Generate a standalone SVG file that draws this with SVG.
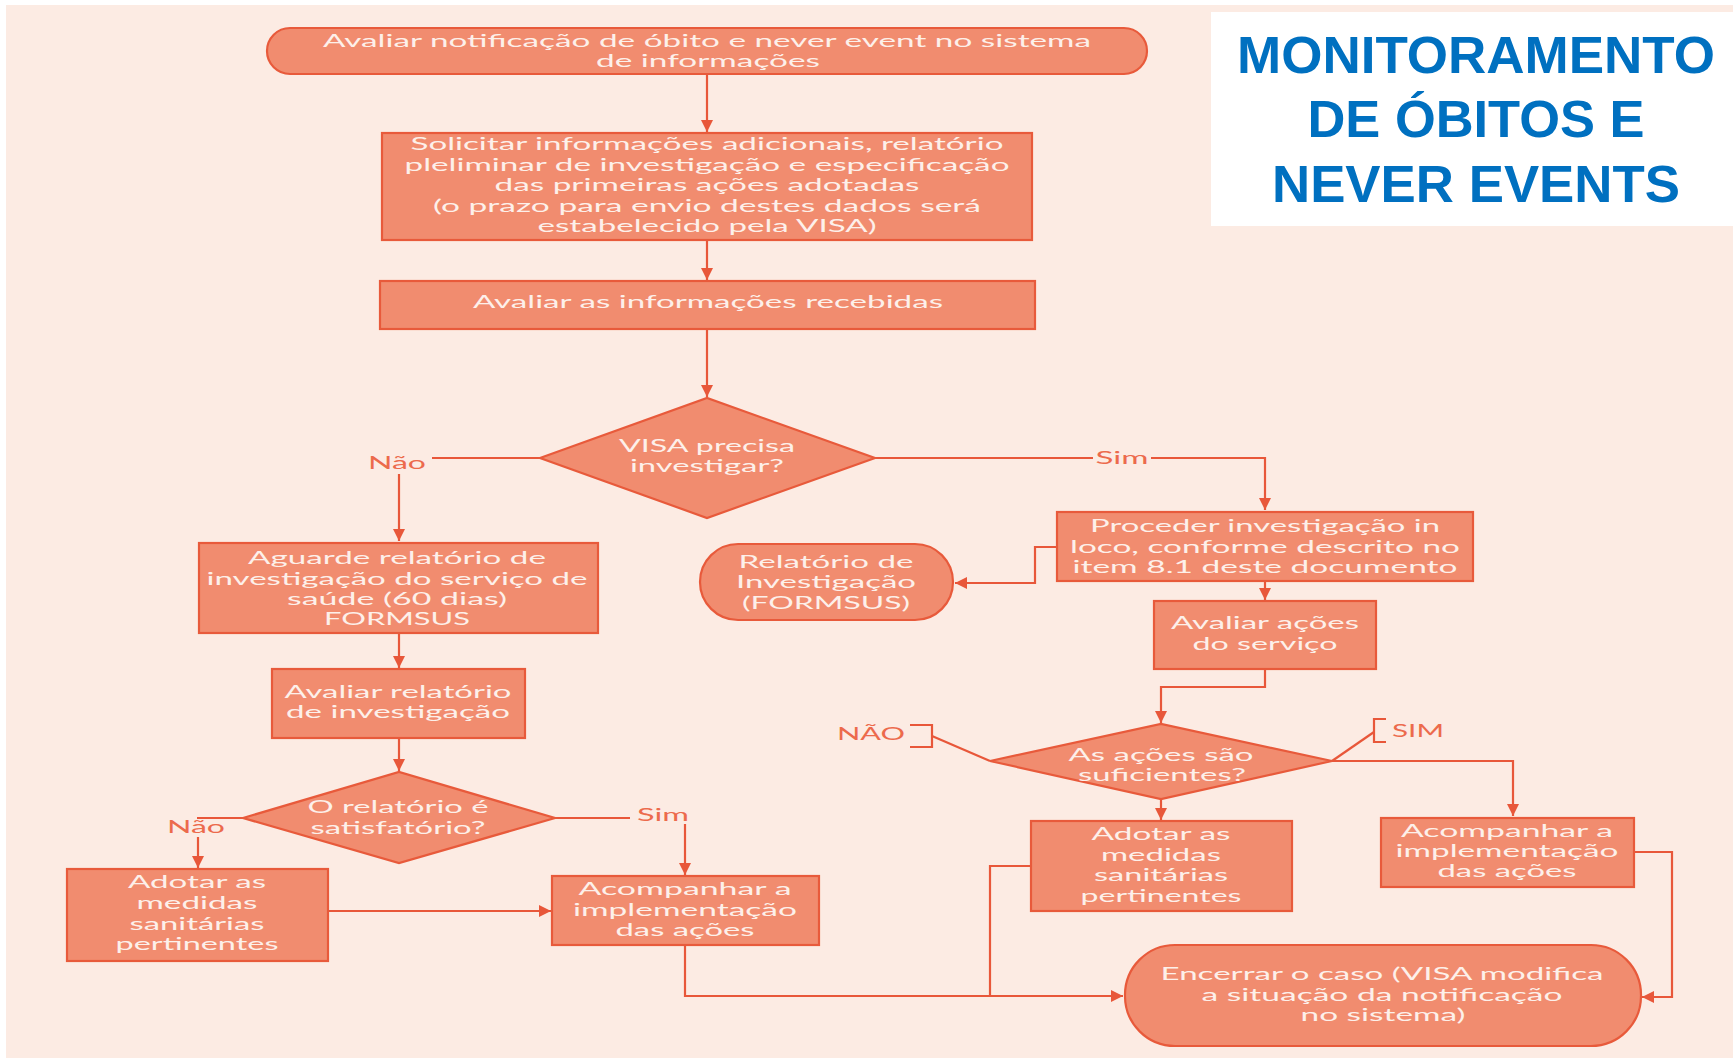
<svg xmlns="http://www.w3.org/2000/svg" width="1733" height="1063" viewBox="0 0 1733 1063">
  <style>
    .box { fill: #f18c6f; stroke: #e85a3b; stroke-width: 2.2; }
    .t { font-family: Lato, "Open Sans", "DejaVu Sans", sans-serif; font-size: 16.5px; fill: #fdf0ea; text-anchor: middle; }
    .lbl { font-family: Lato, "Open Sans", "DejaVu Sans", sans-serif; font-size: 16.5px; fill: #ec6a4c; text-anchor: middle; }
    .ln { fill: none; stroke: #e8573a; stroke-width: 2.2; }
    .title { font-family: "Liberation Sans", Arial, sans-serif; font-weight: bold; font-size: 52.5px; fill: #0070c0; text-anchor: middle; }
  </style>
  <defs>
    <marker id="ah" viewBox="0 0 10 10" refX="10" refY="5" markerWidth="12" markerHeight="12" markerUnits="userSpaceOnUse" orient="auto">
      <path d="M0,0 L10,5 L0,10 z" fill="#e8573a"/>
    </marker>
  </defs>

  <!-- page -->
  <rect x="0" y="0" width="1733" height="1063" fill="#ffffff"/>
  <rect x="6" y="5" width="1727" height="1053" fill="#fcebe3"/>

  <!-- title panel -->
  <g id="title">
    <rect x="1211" y="12" width="522" height="214" fill="#ffffff"/>
    <text class="title" x="1476" y="73" textLength="478" lengthAdjust="spacingAndGlyphs">MONITORAMENTO</text>
    <text class="title" x="1476" y="137" textLength="337" lengthAdjust="spacingAndGlyphs">DE ÓBITOS E</text>
    <text class="title" x="1476" y="202" textLength="408" lengthAdjust="spacingAndGlyphs">NEVER EVENTS</text>
  </g>

  <!-- connectors -->
  <g id="connectors">
    <path class="ln" d="M707,74 V132" marker-end="url(#ah)"/>
    <path class="ln" d="M707,240 V280" marker-end="url(#ah)"/>
    <path class="ln" d="M707,329 V397" marker-end="url(#ah)"/>
    <!-- VISA precisa investigar? -->
    <path class="ln" d="M540,458 H432"/>
    <path class="ln" d="M399,474 V541" marker-end="url(#ah)"/>
    <path class="ln" d="M875,458 H1093"/>
    <path class="ln" d="M1151,458 H1265 V510" marker-end="url(#ah)"/>
    <!-- right branch -->
    <path class="ln" d="M1057,547 H1035 V583 H955" marker-end="url(#ah)"/>
    <path class="ln" d="M1265,581 V600" marker-end="url(#ah)"/>
    <path class="ln" d="M1265,669 V687 H1161 V723" marker-end="url(#ah)"/>
    <path class="ln" d="M1161,799 V820" marker-end="url(#ah)"/>
    <path class="ln" d="M1332,761 H1513 V816" marker-end="url(#ah)"/>
    <path class="ln" d="M1332,761 L1374,732"/>
    <path class="ln" d="M1386,719 H1374 V742 H1386"/>
    <path class="ln" d="M990,761 L932,736"/>
    <path class="ln" d="M910,725 H932 V747 H910"/>
    <path class="ln" d="M1634,852 H1672 V997 H1642" marker-end="url(#ah)"/>
    <path class="ln" d="M1031,866 H990 V996"/>
    <!-- left branch -->
    <path class="ln" d="M399,633 V668" marker-end="url(#ah)"/>
    <path class="ln" d="M399,738 V771" marker-end="url(#ah)"/>
    <path class="ln" d="M243,818 H197"/>
    <path class="ln" d="M198,837 V868" marker-end="url(#ah)"/>
    <path class="ln" d="M555,818 H630"/>
    <path class="ln" d="M685,824 V875" marker-end="url(#ah)"/>
    <path class="ln" d="M328,911 H551" marker-end="url(#ah)"/>
    <path class="ln" d="M685,945 V996 H1123" marker-end="url(#ah)"/>
    <!-- branch labels -->
    <text class="lbl" x="397" y="469" textLength="58" lengthAdjust="spacingAndGlyphs">Não</text>
    <text class="lbl" x="1122" y="464" textLength="53" lengthAdjust="spacingAndGlyphs">Sim</text>
    <text class="lbl" x="871" y="740" textLength="68" lengthAdjust="spacingAndGlyphs">NÃO</text>
    <text class="lbl" x="1418" y="737" textLength="52" lengthAdjust="spacingAndGlyphs">SIM</text>
    <text class="lbl" x="196" y="833" textLength="58" lengthAdjust="spacingAndGlyphs">Não</text>
    <text class="lbl" x="663" y="821" textLength="52" lengthAdjust="spacingAndGlyphs">Sim</text>
  </g>

  <g id="n-avaliar-notificacao">
    <rect class="box" x="267" y="28" width="880" height="46" rx="23"/>
    <text class="t" x="707" y="47" textLength="768" lengthAdjust="spacingAndGlyphs">Avaliar notificação de óbito e never event no sistema</text>
    <text class="t" x="708" y="67" textLength="224" lengthAdjust="spacingAndGlyphs">de informações</text>
  </g>

  <g id="n-solicitar">
    <rect class="box" x="382" y="133" width="650" height="107"/>
    <text class="t" x="707" y="150" textLength="593" lengthAdjust="spacingAndGlyphs">Solicitar informações adicionais, relatório</text>
    <text class="t" x="707" y="171" textLength="605" lengthAdjust="spacingAndGlyphs">pleliminar de investigação e especificação</text>
    <text class="t" x="707" y="191" textLength="425" lengthAdjust="spacingAndGlyphs">das primeiras ações adotadas</text>
    <text class="t" x="707" y="212" textLength="548" lengthAdjust="spacingAndGlyphs">(o prazo para envio destes dados será</text>
    <text class="t" x="707" y="232" textLength="339" lengthAdjust="spacingAndGlyphs">estabelecido pela VISA)</text>
  </g>

  <g id="n-avaliar-informacoes">
    <rect class="box" x="380" y="281" width="655" height="48"/>
    <text class="t" x="708" y="308" textLength="470" lengthAdjust="spacingAndGlyphs">Avaliar as informações recebidas</text>
  </g>

  <g id="d-visa-precisa">
    <polygon class="box" points="540,458 707,398 875,458 707,518"/>
    <text class="t" x="707" y="452" textLength="176" lengthAdjust="spacingAndGlyphs">VISA precisa</text>
    <text class="t" x="707" y="472" textLength="154" lengthAdjust="spacingAndGlyphs">investigar?</text>
  </g>

  <g id="n-aguarde">
    <rect class="box" x="199" y="543" width="399" height="90"/>
    <text class="t" x="397" y="564" textLength="298" lengthAdjust="spacingAndGlyphs">Aguarde relatório de</text>
    <text class="t" x="397" y="585" textLength="381" lengthAdjust="spacingAndGlyphs">investigação do serviço de</text>
    <text class="t" x="397" y="605" textLength="220" lengthAdjust="spacingAndGlyphs">saúde (60 dias)</text>
    <text class="t" x="397" y="625" textLength="146" lengthAdjust="spacingAndGlyphs">FORMSUS</text>
  </g>

  <g id="n-relatorio-formsus">
    <rect class="box" x="700" y="544" width="253" height="76" rx="38"/>
    <text class="t" x="826" y="568" textLength="175" lengthAdjust="spacingAndGlyphs">Relatório de</text>
    <text class="t" x="826" y="588" textLength="180" lengthAdjust="spacingAndGlyphs">Investigação</text>
    <text class="t" x="826" y="609" textLength="168" lengthAdjust="spacingAndGlyphs">(FORMSUS)</text>
  </g>

  <g id="n-proceder">
    <rect class="box" x="1057" y="512" width="416" height="69"/>
    <text class="t" x="1265" y="532" textLength="350" lengthAdjust="spacingAndGlyphs">Proceder investigação in</text>
    <text class="t" x="1265" y="553" textLength="390" lengthAdjust="spacingAndGlyphs">loco, conforme descrito no</text>
    <text class="t" x="1265" y="573" textLength="385" lengthAdjust="spacingAndGlyphs">item 8.1 deste documento</text>
  </g>

  <g id="n-avaliar-acoes">
    <rect class="box" x="1154" y="601" width="222" height="68"/>
    <text class="t" x="1265" y="629" textLength="188" lengthAdjust="spacingAndGlyphs">Avaliar ações</text>
    <text class="t" x="1265" y="650" textLength="145" lengthAdjust="spacingAndGlyphs">do serviço</text>
  </g>

  <g id="d-acoes-suficientes">
    <polygon class="box" points="990,761 1161,724 1332,761 1161,799"/>
    <text class="t" x="1161" y="761" textLength="185" lengthAdjust="spacingAndGlyphs">As ações são</text>
    <text class="t" x="1162" y="781" textLength="168" lengthAdjust="spacingAndGlyphs">suficientes?</text>
  </g>

  <g id="n-adotar-direita">
    <rect class="box" x="1031" y="821" width="261" height="90"/>
    <text class="t" x="1161" y="840" textLength="139" lengthAdjust="spacingAndGlyphs">Adotar as</text>
    <text class="t" x="1161" y="861" textLength="120" lengthAdjust="spacingAndGlyphs">medidas</text>
    <text class="t" x="1161" y="881" textLength="134" lengthAdjust="spacingAndGlyphs">sanitárias</text>
    <text class="t" x="1161" y="902" textLength="161" lengthAdjust="spacingAndGlyphs">pertinentes</text>
  </g>

  <g id="n-acompanhar-direita">
    <rect class="box" x="1381" y="818" width="253" height="69"/>
    <text class="t" x="1507" y="837" textLength="212" lengthAdjust="spacingAndGlyphs">Acompanhar a</text>
    <text class="t" x="1507" y="857" textLength="223" lengthAdjust="spacingAndGlyphs">implementação</text>
    <text class="t" x="1507" y="877" textLength="139" lengthAdjust="spacingAndGlyphs">das ações</text>
  </g>

  <g id="n-encerrar">
    <rect class="box" x="1125" y="945" width="516" height="101" rx="50"/>
    <text class="t" x="1382" y="980" textLength="443" lengthAdjust="spacingAndGlyphs">Encerrar o caso (VISA modifica</text>
    <text class="t" x="1382" y="1001" textLength="361" lengthAdjust="spacingAndGlyphs">a situação da notificação</text>
    <text class="t" x="1383" y="1021" textLength="165" lengthAdjust="spacingAndGlyphs">no sistema)</text>
  </g>

  <g id="n-avaliar-relatorio">
    <rect class="box" x="272" y="669" width="253" height="69"/>
    <text class="t" x="398" y="698" textLength="227" lengthAdjust="spacingAndGlyphs">Avaliar relatório</text>
    <text class="t" x="398" y="718" textLength="224" lengthAdjust="spacingAndGlyphs">de investigação</text>
  </g>

  <g id="d-relatorio-satisfatorio">
    <polygon class="box" points="243,818 399,772 555,818 399,863"/>
    <text class="t" x="398" y="813" textLength="181" lengthAdjust="spacingAndGlyphs">O relatório é</text>
    <text class="t" x="398" y="834" textLength="175" lengthAdjust="spacingAndGlyphs">satisfatório?</text>
  </g>

  <g id="n-adotar-esquerda">
    <rect class="box" x="67" y="869" width="261" height="92"/>
    <text class="t" x="197" y="888" textLength="138" lengthAdjust="spacingAndGlyphs">Adotar as</text>
    <text class="t" x="197" y="909" textLength="121" lengthAdjust="spacingAndGlyphs">medidas</text>
    <text class="t" x="197" y="930" textLength="135" lengthAdjust="spacingAndGlyphs">sanitárias</text>
    <text class="t" x="197" y="950" textLength="163" lengthAdjust="spacingAndGlyphs">pertinentes</text>
  </g>

  <g id="n-acompanhar-esquerda">
    <rect class="box" x="552" y="876" width="267" height="69"/>
    <text class="t" x="685" y="895" textLength="213" lengthAdjust="spacingAndGlyphs">Acompanhar a</text>
    <text class="t" x="685" y="916" textLength="224" lengthAdjust="spacingAndGlyphs">implementação</text>
    <text class="t" x="685" y="936" textLength="139" lengthAdjust="spacingAndGlyphs">das ações</text>
  </g>
</svg>
